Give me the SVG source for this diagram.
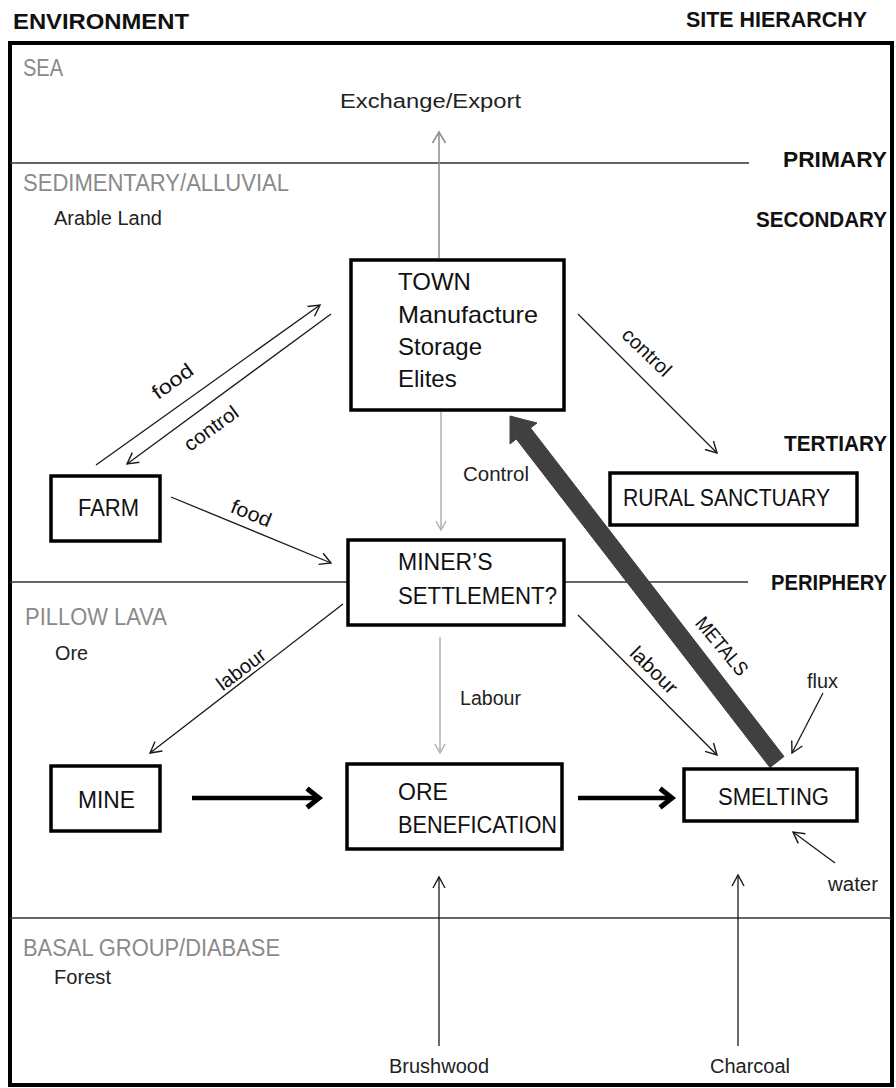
<svg xmlns="http://www.w3.org/2000/svg" width="896" height="1088" viewBox="0 0 896 1088">
<style>
text{font-family:"Liberation Sans",Arial,sans-serif;fill:#111}
.hdr{font-weight:bold;font-size:22px}
.lvl{font-weight:bold;font-size:22px;text-anchor:end}
.zone{font-size:23px;fill:#8a8a8a}
.sub{font-size:20px;fill:#222}
.box{fill:#fff;stroke:#000;stroke-width:3.5}
.bt{font-size:23px}
.tt{font-size:24px}
.lab{font-size:20px;text-anchor:middle}
.band{stroke:#333;stroke-width:1.5}
.thin{stroke:#1a1a1a;stroke-width:1.3;fill:none;marker-end:url(#ah)}
.grey{stroke:#8c8c8c;stroke-width:1.5;fill:none;marker-end:url(#ahg)}
.lgrey{stroke:#b0b0b0;stroke-width:1.5;fill:none;marker-end:url(#ahl)}
.thick{stroke:#000;stroke-width:4.5;fill:none;marker-end:url(#aht)}
</style>
<defs>
<marker id="ah" markerUnits="userSpaceOnUse" viewBox="-14 -10 18 20" markerWidth="18" markerHeight="20" refX="0" refY="0" orient="auto" overflow="visible"><path d="M-11,-6 L0,0 L-11,6" fill="none" stroke="#1a1a1a" stroke-width="1.4"/></marker>
<marker id="ahg" markerUnits="userSpaceOnUse" viewBox="-14 -10 18 20" markerWidth="18" markerHeight="20" refX="0" refY="0" orient="auto" overflow="visible"><path d="M-11,-6.5 L0,0 L-11,6.5" fill="none" stroke="#8c8c8c" stroke-width="1.5"/></marker>
<marker id="ahl" markerUnits="userSpaceOnUse" viewBox="-14 -10 18 20" markerWidth="18" markerHeight="20" refX="0" refY="0" orient="auto" overflow="visible"><path d="M-9,-5 L0,0 L-9,5" fill="none" stroke="#b0b0b0" stroke-width="1.5"/></marker>
<marker id="aht" markerUnits="userSpaceOnUse" viewBox="-16 -12 20 24" markerWidth="20" markerHeight="24" refX="0" refY="0" orient="auto" overflow="visible"><path d="M-12,-9.5 L0,0 L-12,9.5" fill="none" stroke="#000" stroke-width="5" stroke-linejoin="miter"/></marker>
</defs>

<rect x="10" y="43" width="882" height="1042" fill="#fff" stroke="#000" stroke-width="4"/>

<g id="headers">
<text class="hdr" x="13" y="29" textLength="176" lengthAdjust="spacingAndGlyphs">ENVIRONMENT</text>
<text class="hdr" x="686" y="27" textLength="181" lengthAdjust="spacingAndGlyphs">SITE HIERARCHY</text>
</g>

<g id="bands">
<line class="band" x1="10" y1="163" x2="749" y2="163"/>
<line class="band" x1="10" y1="582" x2="748" y2="582"/>
<line class="band" x1="10" y1="918" x2="891" y2="918" stroke-width="2"/>
</g>

<g id="levels">
<text class="lvl" x="887" y="167" textLength="104" lengthAdjust="spacingAndGlyphs">PRIMARY</text>
<text class="lvl" x="887" y="227" textLength="131" lengthAdjust="spacingAndGlyphs">SECONDARY</text>
<text class="lvl" x="887" y="451" textLength="103" lengthAdjust="spacingAndGlyphs">TERTIARY</text>
<text class="lvl" x="887" y="590" textLength="116" lengthAdjust="spacingAndGlyphs">PERIPHERY</text>
</g>

<g id="zones">
<text class="zone" x="23" y="76" textLength="40" lengthAdjust="spacingAndGlyphs">SEA</text>
<text class="zone" x="23" y="191" textLength="266" lengthAdjust="spacingAndGlyphs">SEDIMENTARY/ALLUVIAL</text>
<text class="sub" x="54" y="225" textLength="108" lengthAdjust="spacingAndGlyphs">Arable Land</text>
<text class="zone" x="25" y="625" textLength="142" lengthAdjust="spacingAndGlyphs">PILLOW LAVA</text>
<text class="sub" x="55" y="660" textLength="33" lengthAdjust="spacingAndGlyphs">Ore</text>
<text class="zone" x="23" y="956" textLength="257" lengthAdjust="spacingAndGlyphs">BASAL GROUP/DIABASE</text>
<text class="sub" x="54" y="984" textLength="57" lengthAdjust="spacingAndGlyphs">Forest</text>
</g>

<g id="connectors">
<line class="grey" x1="439" y1="258" x2="439" y2="132"/>
<line class="lgrey" x1="441" y1="412" x2="441" y2="530"/>
<line class="lgrey" x1="440" y1="637" x2="440" y2="753"/>
<line class="thin" x1="96" y1="465" x2="320" y2="305"/>
<line class="thin" x1="331" y1="314" x2="127" y2="464"/>
<line class="thin" x1="171" y1="497" x2="331" y2="563"/>
<line class="thin" x1="578" y1="314" x2="717" y2="453"/>
<line class="thin" x1="343" y1="604" x2="150" y2="753"/>
<line class="thin" x1="578" y1="615" x2="717" y2="755"/>
<line class="thin" x1="823" y1="693" x2="792" y2="753"/>
<line class="thin" x1="835" y1="863" x2="793" y2="832"/>
<line class="thin" x1="439" y1="1046" x2="439" y2="877"/>
<line class="thin" x1="738" y1="1046" x2="738" y2="875"/>
<line class="thick" x1="192" y1="798" x2="319" y2="798"/>
<line class="thick" x1="578" y1="798" x2="672" y2="798"/>
<polygon points="784,756.5 530.5,428 537,423 510,416 510,444 516.3,439 770,767.5" fill="#404040" stroke="#404040" stroke-width="1" stroke-linejoin="round"/>
</g>

<g id="connector-labels">
<text class="lab" x="0" y="0" transform="translate(173,382) rotate(-36)" dy="6" textLength="46" lengthAdjust="spacingAndGlyphs">food</text>
<text class="lab" x="0" y="0" transform="translate(211,428) rotate(-36)" dy="7" textLength="62" lengthAdjust="spacingAndGlyphs">control</text>
<text class="lab" x="0" y="0" transform="translate(251,514) rotate(22)" dy="6" textLength="42" lengthAdjust="spacingAndGlyphs">food</text>
<text class="lab" x="0" y="0" transform="translate(647,352) rotate(44)" dy="7" textLength="60" lengthAdjust="spacingAndGlyphs">control</text>
<text class="lab" x="0" y="0" transform="translate(241,669) rotate(-37)" dy="7" textLength="56" lengthAdjust="spacingAndGlyphs">labour</text>
<text class="lab" x="0" y="0" transform="translate(654,670) rotate(45)" dy="7" textLength="58" lengthAdjust="spacingAndGlyphs">labour</text>
<text class="lab" x="0" y="0" transform="translate(722,646) rotate(50)" dy="7" font-size="19" textLength="70" lengthAdjust="spacingAndGlyphs">METALS</text>
<text class="sub" x="463" y="481" textLength="66" lengthAdjust="spacingAndGlyphs">Control</text>
<text class="sub" x="460" y="705" textLength="61" lengthAdjust="spacingAndGlyphs">Labour</text>
<text class="sub" x="807" y="688" textLength="31" lengthAdjust="spacingAndGlyphs">flux</text>
<text class="sub" x="828" y="891" textLength="50" lengthAdjust="spacingAndGlyphs">water</text>
<text class="sub" x="340" y="108" font-size="22" textLength="181" lengthAdjust="spacingAndGlyphs">Exchange/Export</text>
<text class="sub" x="389" y="1073" textLength="100" lengthAdjust="spacingAndGlyphs">Brushwood</text>
<text class="sub" x="710" y="1073" textLength="80" lengthAdjust="spacingAndGlyphs">Charcoal</text>
</g>

<g id="town">
<rect class="box" x="351" y="260" width="213" height="150"/>
<text class="tt" x="398" y="290">TOWN</text>
<text class="tt" x="398" y="323" textLength="140" lengthAdjust="spacingAndGlyphs">Manufacture</text>
<text class="tt" x="398" y="355">Storage</text>
<text class="tt" x="398" y="387">Elites</text>
</g>
<g id="farm">
<rect class="box" x="51" y="476" width="109" height="65"/>
<text class="bt" x="78" y="516" textLength="61" lengthAdjust="spacingAndGlyphs">FARM</text>
</g>
<g id="miners-settlement">
<rect class="box" x="348" y="540" width="216" height="85"/>
<text class="bt" x="398" y="570">MINER’S</text>
<text class="bt" x="398" y="604" textLength="159" lengthAdjust="spacingAndGlyphs">SETTLEMENT?</text>
</g>
<g id="rural-sanctuary">
<rect class="box" x="610" y="473" width="247" height="52"/>
<text class="bt" x="623" y="506" textLength="207" lengthAdjust="spacingAndGlyphs">RURAL SANCTUARY</text>
</g>
<g id="mine">
<rect class="box" x="51" y="766" width="109" height="65"/>
<text class="bt" x="78" y="808" textLength="57" lengthAdjust="spacingAndGlyphs">MINE</text>
</g>
<g id="ore-benefication">
<rect class="box" x="347" y="764" width="215" height="85"/>
<text class="bt" x="398" y="800">ORE</text>
<text class="bt" x="398" y="833" textLength="159" lengthAdjust="spacingAndGlyphs">BENEFICATION</text>
</g>
<g id="smelting">
<rect class="box" x="684" y="769" width="173" height="52"/>
<text class="bt" x="718" y="805" textLength="111" lengthAdjust="spacingAndGlyphs">SMELTING</text>
</g>
</svg>
